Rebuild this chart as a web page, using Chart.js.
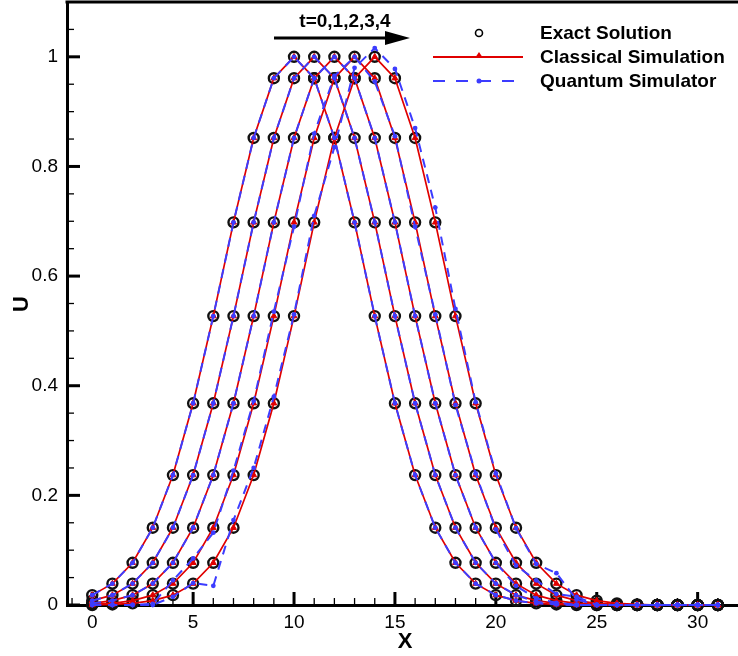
<!DOCTYPE html>
<html>
<head>
<meta charset="utf-8">
<title>U vs X</title>
<script src="https://cdn.jsdelivr.net/npm/chart.js@4.4.1/dist/chart.umd.min.js"></script>
<style>
  html, body { margin: 0; padding: 0; background: #fff; }
  #wrap { width: 738px; height: 656px; }
</style>
</head>
<body>
<div id="wrap"><canvas id="chart" width="738" height="656"></canvas></div>
<script>
// Grid points
const xValues = [0,1,2,3,4,5,6,7,8,9,10,11,12,13,14,15,16,17,18,19,20,21,22,23,24,25,26,27,28,29,30,31];

// Exact solution, one row per time t=0..4
const exactT0 = [0.018,0.039,0.077,0.141,0.237,0.368,0.527,0.698,0.852,0.961,1,0.961,0.852,0.698,0.527,0.368,0.237,0.141,0.077,0.039,0.018,0.008,0.003,0.001,0,0,0,0,0,0,0,0];
const exactT1 = [0.008,0.018,0.039,0.077,0.141,0.237,0.368,0.527,0.698,0.852,0.961,1,0.961,0.852,0.698,0.527,0.368,0.237,0.141,0.077,0.039,0.018,0.008,0.003,0.001,0,0,0,0,0,0,0];
const exactT2 = [0.003,0.008,0.018,0.039,0.077,0.141,0.237,0.368,0.527,0.698,0.852,0.961,1,0.961,0.852,0.698,0.527,0.368,0.237,0.141,0.077,0.039,0.018,0.008,0.003,0.001,0,0,0,0,0,0];
const exactT3 = [0.001,0.003,0.008,0.018,0.039,0.077,0.141,0.237,0.368,0.527,0.698,0.852,0.961,1,0.961,0.852,0.698,0.527,0.368,0.237,0.141,0.077,0.039,0.018,0.008,0.003,0.001,0,0,0,0,0];
const exactT4 = [0,0.001,0.003,0.008,0.018,0.039,0.077,0.141,0.237,0.368,0.527,0.698,0.852,0.961,1,0.961,0.852,0.698,0.527,0.368,0.237,0.141,0.077,0.039,0.018,0.008,0.003,0.001,0,0,0,0];

// Classical simulation (overlaps the exact solution)
const classicalT0 = [0.018,0.039,0.077,0.141,0.237,0.368,0.527,0.698,0.852,0.961,1,0.961,0.852,0.698,0.527,0.368,0.237,0.141,0.077,0.039,0.018,0.008,0.003,0.001,0,0,0,0,0,0,0,0];
const classicalT1 = [0.008,0.018,0.039,0.077,0.141,0.237,0.368,0.527,0.698,0.852,0.961,1,0.961,0.852,0.698,0.527,0.368,0.237,0.141,0.077,0.039,0.018,0.008,0.003,0.001,0,0,0,0,0,0,0];
const classicalT2 = [0.003,0.008,0.018,0.039,0.077,0.141,0.237,0.368,0.527,0.698,0.852,0.961,1,0.961,0.852,0.698,0.527,0.368,0.237,0.141,0.077,0.039,0.018,0.008,0.003,0.001,0,0,0,0,0,0];
const classicalT3 = [0.001,0.003,0.008,0.018,0.039,0.077,0.141,0.237,0.368,0.527,0.698,0.852,0.961,1,0.961,0.852,0.698,0.527,0.368,0.237,0.141,0.077,0.039,0.018,0.008,0.003,0.001,0,0,0,0,0];
const classicalT4 = [0,0.001,0.003,0.008,0.018,0.039,0.077,0.141,0.237,0.368,0.527,0.698,0.852,0.961,1,0.961,0.852,0.698,0.527,0.368,0.237,0.141,0.077,0.039,0.018,0.008,0.003,0.001,0,0,0,0];

// Quantum simulator (small deviations at later times)
const quantumT0 = [0.018,0.039,0.077,0.141,0.237,0.368,0.527,0.698,0.852,0.961,1,0.961,0.852,0.698,0.527,0.368,0.237,0.141,0.077,0.039,0.018,0.008,0.003,0.001,0,0,0,0,0,0,0,0];
const quantumT1 = [0.008,0.018,0.039,0.077,0.141,0.237,0.368,0.527,0.698,0.852,0.961,1,0.961,0.852,0.698,0.527,0.368,0.237,0.141,0.077,0.039,0.018,0.006,0.002,0,0,0,0,0,0,0,0];
const quantumT2 = [0.003,0.008,0.018,0.039,0.077,0.141,0.237,0.368,0.527,0.698,0.852,0.961,1,0.961,0.852,0.698,0.527,0.368,0.237,0.141,0.077,0.035,0.012,0.004,0,0,0,0,0,0,0,0];
const quantumT3 = [0,0,0,0.002,0.045,0.085,0.132,0.245,0.372,0.535,0.69,0.86,0.965,1,0.955,0.855,0.69,0.53,0.365,0.24,0.138,0.072,0.045,0.02,0.015,0,0,0,0,0,0,0];
const quantumT4 = [0,0,0,0,0.015,0.04,0.035,0.155,0.25,0.38,0.53,0.71,0.835,0.98,1.016,0.978,0.87,0.725,0.54,0.37,0.24,0.14,0.075,0.058,0.01,0,0,0,0,0,0,0];

// Axis ticks and labels
const xTicks = [0,5,10,15,20,25,30];
const yTicks = [0,0.2,0.4,0.6,0.8,1];
const seriesNames = ['Exact Solution','Classical Simulation','Quantum Simulator'];
const timeLabel = 't=0,1,2,3,4';

const RED = '#e00000';
const BLUE = '#3c3cff';
const FONT = '"Liberation Sans", Arial, sans-serif';

function pts(ys) { return xValues.map((x, i) => ({ x: x, y: ys[i] })); }

const datasets = [];
[exactT0, exactT1, exactT2, exactT3, exactT4].forEach(d => datasets.push({
  label: seriesNames[0], data: pts(d), showLine: false, order: 3, clip: false,
  pointStyle: 'circle', pointRadius: 5, pointBorderWidth: 2.4,
  pointBorderColor: '#111', pointBackgroundColor: 'rgba(0,0,0,0)'
}));
[classicalT0, classicalT1, classicalT2, classicalT3, classicalT4].forEach(d => datasets.push({
  label: seriesNames[1], data: pts(d), showLine: true, order: 2, clip: false,
  borderColor: RED, borderWidth: 1.7, tension: 0,
  pointStyle: 'triangle', pointRadius: 3.4, pointBorderWidth: 1,
  pointBorderColor: RED, pointBackgroundColor: RED
}));
[quantumT0, quantumT1, quantumT2, quantumT3, quantumT4].forEach(d => datasets.push({
  label: seriesNames[2], data: pts(d), showLine: true, order: 1, clip: false,
  borderColor: BLUE, borderWidth: 2, borderDash: [9, 7], tension: 0,
  pointStyle: 'circle', pointRadius: 2.4, pointBorderWidth: 0,
  pointBorderColor: BLUE, pointBackgroundColor: BLUE
}));

// inward ticks, top frame, titles, arrow and legend
const decor = {
  id: 'decor',
  beforeDatasetsDraw(chart) {
    const { ctx, chartArea: a, scales: { x, y } } = chart;
    ctx.save();
    ctx.strokeStyle = '#000';
    for (let i = -1; i <= 31; i++) {
      const px = x.getPixelForValue(i);
      const major = i % 5 === 0;
      ctx.lineWidth = major ? 3 : 1.3;
      ctx.beginPath(); ctx.moveTo(px, a.bottom); ctx.lineTo(px, a.bottom - (major ? 13 : 7)); ctx.stroke();
    }
    for (let i = 0; i <= 22; i++) {
      const py = y.getPixelForValue(i * 0.05);
      const major = i % 4 === 0;
      ctx.lineWidth = major ? 3 : 1.3;
      ctx.beginPath(); ctx.moveTo(a.left, py); ctx.lineTo(a.left + (major ? 13 : 7), py); ctx.stroke();
    }
    ctx.restore();
  },
  afterDraw(chart) {
    const { ctx, chartArea: a } = chart;
    ctx.save();
    // top frame
    ctx.strokeStyle = '#000'; ctx.lineWidth = 3;
    ctx.beginPath(); ctx.moveTo(a.left - 1.5, a.top); ctx.lineTo(a.right, a.top); ctx.stroke();

    // axis titles
    ctx.fillStyle = '#000';
    ctx.textAlign = 'center'; ctx.textBaseline = 'middle';
    ctx.font = 'bold 22px ' + FONT;
    ctx.fillText('X', 405, 642);
    ctx.save(); ctx.translate(22, 304); ctx.rotate(-Math.PI / 2);
    ctx.fillText('U', 0, 0); ctx.restore();

    // time annotation with arrow
    ctx.font = 'bold 19px ' + FONT;
    ctx.fillText(timeLabel, 345, 22);
    ctx.lineWidth = 3;
    ctx.beginPath(); ctx.moveTo(274, 38); ctx.lineTo(388, 38); ctx.stroke();
    ctx.beginPath(); ctx.moveTo(410, 38); ctx.lineTo(385, 31); ctx.lineTo(385, 45); ctx.closePath(); ctx.fill();

    // legend
    const lx0 = 433, lx1 = 523, mx = 479, tx = 540;
    ctx.textAlign = 'left';
    ctx.font = 'bold 19px ' + FONT;
    ctx.fillText(seriesNames[0], tx, 34);
    ctx.fillText(seriesNames[1], tx, 58);
    ctx.fillText(seriesNames[2], tx, 82);
    ctx.lineWidth = 1.6; ctx.strokeStyle = '#000';
    ctx.beginPath(); ctx.arc(mx, 33, 3.5, 0, Math.PI * 2); ctx.stroke();
    ctx.strokeStyle = RED; ctx.lineWidth = 2;
    ctx.beginPath(); ctx.moveTo(lx0, 57); ctx.lineTo(lx1, 57); ctx.stroke();
    ctx.fillStyle = RED;
    ctx.beginPath(); ctx.moveTo(mx, 52); ctx.lineTo(mx - 4, 58); ctx.lineTo(mx + 4, 58); ctx.closePath(); ctx.fill();
    ctx.strokeStyle = BLUE; ctx.lineWidth = 2; ctx.setLineDash([12, 11]);
    ctx.beginPath(); ctx.moveTo(lx0, 81); ctx.lineTo(lx1, 81); ctx.stroke();
    ctx.setLineDash([]);
    ctx.fillStyle = BLUE;
    ctx.beginPath(); ctx.arc(mx, 81, 2.5, 0, Math.PI * 2); ctx.fill();
    ctx.restore();
  }
};

new Chart(document.getElementById('chart'), {
  type: 'scatter',
  data: { datasets: datasets },
  options: {
    responsive: false,
    animation: false,
    devicePixelRatio: 1,
    layout: { autoPadding: false, padding: { top: 2, right: 0, left: 0, bottom: 0 } },
    plugins: { legend: { display: false }, tooltip: { enabled: false } },
    scales: {
      x: {
        type: 'linear', min: -1.25, max: 32,
        grid: { display: false, drawTicks: false },
        border: { display: true, width: 3, color: '#000' },
        ticks: { color: '#000', padding: 6, font: { family: FONT, size: 19 } },
        afterBuildTicks: s => { s.ticks = xTicks.map(v => ({ value: v })); },
        afterFit: s => { s.height = 51; s.paddingLeft = 0; s.paddingRight = 0; }
      },
      y: {
        type: 'linear', min: 0, max: 1.1,
        grid: { display: false, drawTicks: false },
        border: { display: true, width: 3, color: '#000' },
        ticks: {
          color: '#000', padding: 9, font: { family: FONT, size: 19 },
          callback: v => String(+Number(v).toFixed(2))
        },
        afterBuildTicks: s => { s.ticks = yTicks.map(v => ({ value: v })); },
        afterFit: s => { s.width = 67; s.paddingTop = 0; s.paddingBottom = 0; }
      }
    }
  },
  plugins: [decor]
});
</script>
</body>
</html>
